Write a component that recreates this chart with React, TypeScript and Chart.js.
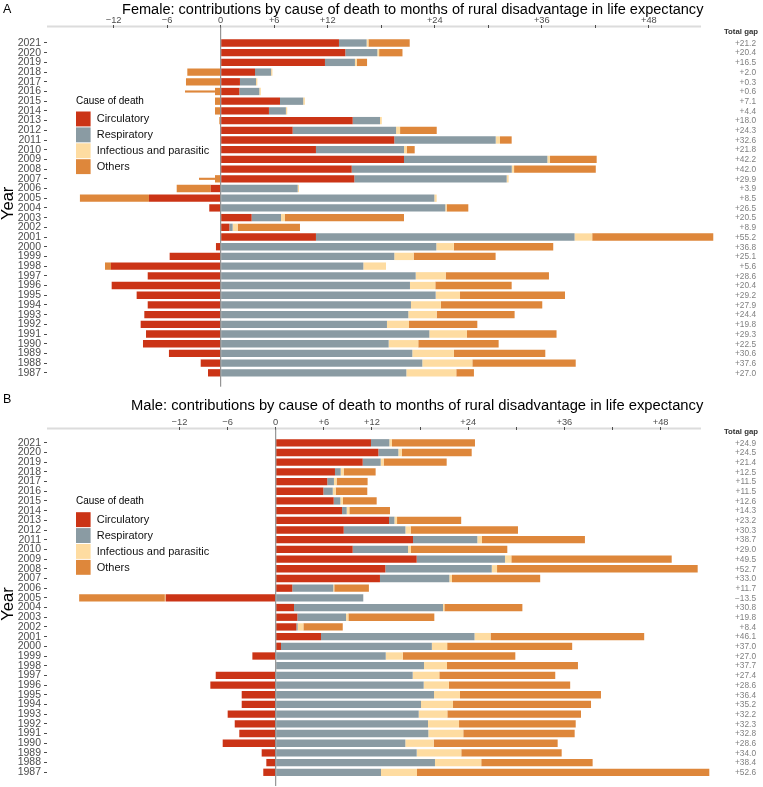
import React, { useEffect, useRef } from 'react';
import { Chart, registerables } from 'chart.js';

Chart.register(...registerables);

const FONT = "'Liberation Sans', Arial, Helvetica, sans-serif";

const YEARS = [2021, 2020, 2019, 2018, 2017, 2016, 2015, 2014, 2013, 2012, 2011, 2010, 2009, 2008, 2007, 2006, 2005, 2004, 2003, 2002, 2001, 2000, 1999, 1998, 1997, 1996, 1995, 1994, 1993, 1992, 1991, 1990, 1989, 1988, 1987];
const CAUSES = ['Circulatory', 'Respiratory', 'Infectious and parasitic', 'Others'];
const CAUSE_COLORS = ['#CB3416', '#8A9BA3', '#FEDCA1', '#DE873B'];
const X_TICKS = [-12, -6, 0, 6, 12, 18, 24, 30, 36, 42, 48];
const X_LABELED = [-12, -6, 0, 6, 12, 24, 36, 48];

const FEMALE_TITLE = 'Female: contributions by cause of death to months of rural disadvantage in life expectancy';
const MALE_TITLE = 'Male: contributions by cause of death to months of rural disadvantage in life expectancy';

// Female (months), years 2021 -> 1987
const F_CIRC = [13.26, 13.97, 11.69, 3.85, 2.16, 2.09, 6.65, 5.41, 14.8, 8.07, 19.46, 10.68, 20.55, 14.69, 14.98, -1.12, -8.04, -1.28, 3.47, 0.97, 10.68, -0.53, -5.72, -12.3, -8.18, -12.22, -9.42, -8.18, -8.56, -8.97, -8.37, -8.71, -5.8, -2.24, -1.42];
const F_RESP = [3.1, 3.59, 3.36, 1.8, 1.8, 2.24, 2.6, 1.9, 3.06, 11.59, 11.37, 9.87, 16.07, 17.94, 17.08, 8.63, 23.95, 25.18, 3.29, 0.37, 28.99, 24.17, 19.46, 15.99, 21.86, 21.22, 24.1, 21.33, 21.03, 18.64, 23.39, 18.83, 21.48, 22.6, 20.81];
const F_INF = [0.2, 0.2, 0.2, 0.15, 0.15, 0.17, 0.19, 0.15, 0.2, 0.45, 0.48, 0.3, 0.3, 0.26, 0.22, 0.15, 0.26, 0.15, 0.45, 0.56, 1.98, 1.97, 2.17, 2.54, 3.36, 2.84, 2.73, 3.36, 3.18, 2.47, 4.22, 3.32, 4.67, 5.61, 5.6];
const F_OTH = [4.63, 2.62, 1.16, -3.74, -3.89, -0.64, -0.64, -0.64, -0.15, 4.11, 1.31, 0.9, 5.23, 9.16, -0.64, -3.81, -7.74, 2.43, 13.34, 6.99, 13.57, 11.14, 9.19, -0.67, 11.58, 8.56, 11.77, 11.36, 8.74, 7.66, 10.04, 9.01, 10.24, 11.59, 1.98];
const F_OTH_THIN = [null, null, null, null, null, -3.36, null, null, null, null, null, null, null, null, -1.79, null, null, null, null, null, null, null, null, null, null, null, null, null, null, null, null, null, null, null, null];
const F_TOTAL = [21.2, 20.4, 16.5, 2.0, 0.3, 0.6, 7.1, 4.4, 18.0, 24.3, 32.6, 21.8, 42.2, 42.0, 29.9, 3.9, 8.5, 26.5, 20.5, 8.9, 55.2, 36.8, 25.1, 5.6, 28.6, 20.4, 29.2, 27.9, 24.4, 19.8, 29.3, 22.5, 30.6, 37.6, 27.0];

// Male (months), years 2021 -> 1987
const M_CIRC = [11.88, 12.8, 10.85, 7.39, 6.43, 5.94, 7.23, 8.27, 14.13, 8.48, 17.12, 9.6, 17.58, 13.67, 13.0, 2.07, -13.72, 2.28, 2.7, 2.57, 5.65, 0.66, -2.91, 0, -7.48, -8.15, -4.24, -4.24, -5.99, -5.11, -4.54, -6.61, -1.75, -1.17, -1.55];
const M_RESP = [2.29, 2.49, 2.24, 0.71, 0.83, 1.17, 0.83, 0.58, 0.67, 7.69, 8.02, 6.9, 11.01, 13.27, 8.65, 5.11, 10.92, 18.58, 6.07, 0.17, 19.14, 18.81, 13.72, 18.49, 17.08, 18.45, 19.74, 18.12, 17.83, 18.99, 19.03, 16.16, 17.58, 19.86, 13.13];
const M_INF = [0.33, 0.42, 0.37, 0.37, 0.33, 0.37, 0.33, 0.33, 0.33, 0.66, 0.58, 0.37, 0.79, 0.66, 0.33, 0.12, -0.1, 0.17, 0.29, 0.71, 2.0, 1.91, 2.12, 2.87, 3.32, 3.15, 3.24, 3.99, 3.57, 3.87, 4.36, 3.54, 5.56, 5.77, 4.49];
const M_OTH = [10.35, 8.73, 7.86, 3.99, 3.87, 3.94, 4.2, 5.07, 8.0, 13.38, 12.84, 12.01, 20.0, 25.02, 11.0, 4.32, -10.69, 9.73, 10.72, 4.91, 19.16, 15.59, 14.04, 16.33, 14.46, 15.12, 17.58, 17.21, 16.67, 14.55, 13.89, 15.46, 12.52, 13.89, 36.45];
const M_TOTAL = [24.9, 24.5, 21.4, 12.5, 11.5, 11.5, 12.6, 14.3, 23.2, 30.3, 38.7, 29.0, 49.5, 52.7, 33.0, 11.7, -13.5, 30.8, 19.8, 8.4, 46.1, 37.0, 27.0, 37.7, 27.4, 28.6, 36.4, 35.2, 32.2, 32.3, 32.8, 28.6, 34.0, 38.4, 52.6];

const MINUS = '\u2212';
function fmtTick(v: number): string {
  if (v === 0) return '0';
  return (v > 0 ? '+' : MINUS) + Math.abs(v);
}
function fmtGap(v: number): string {
  return (v < 0 ? MINUS : '+') + Math.abs(v).toFixed(1);
}

const decorPlugin = {
  id: 'decor',
  beforeDraw(chart: any, _a: any, o: any) {
    const { ctx, chartArea, width, height } = chart;
    const x = chart.scales.x;
    ctx.save();
    ctx.fillStyle = '#FFFFFF';
    ctx.fillRect(0, 0, width, height);
    ctx.strokeStyle = '#DCDCDC';
    ctx.lineWidth = 2;
    ctx.beginPath();
    const ly = chartArea.top - o.axisLineOffset;
    ctx.moveTo(chartArea.left, ly);
    ctx.lineTo(x.getPixelForValue(o.axisEnd), ly);
    ctx.stroke();
    ctx.restore();
  },
  afterDatasetsDraw(chart: any, _a: any, o: any) {
    const { ctx, chartArea } = chart;
    const x0 = chart.scales.x.getPixelForValue(0);
    ctx.save();
    ctx.strokeStyle = '#7F7F7F';
    ctx.lineWidth = 1;
    ctx.beginPath();
    ctx.moveTo(x0, chartArea.top - o.axisLineOffset);
    ctx.lineTo(x0, chartArea.bottom);
    ctx.stroke();
    ctx.restore();
  },
  afterDraw(chart: any, _a: any, o: any) {
    const { ctx, chartArea } = chart;
    const y = chart.scales.y;
    ctx.save();
    ctx.fillStyle = '#000';
    ctx.textBaseline = 'alphabetic';
    ctx.textAlign = 'left';
    ctx.font = `12.5px ${FONT}`;
    ctx.fillText(o.letter, 3, o.letterBase);
    ctx.font = `${o.titleSize}px ${FONT}`;
    ctx.fillText(o.title, o.titleX, o.titleBase);
    ctx.save();
    ctx.translate(12.5, (chartArea.top + chartArea.bottom) / 2 - 4);
    ctx.rotate(-Math.PI / 2);
    ctx.textAlign = 'center';
    ctx.font = `16.5px ${FONT}`;
    ctx.fillText('Year', 0, 0);
    ctx.restore();
    const ds = chart.data.datasets;
    ctx.textAlign = 'left';
    ctx.textBaseline = 'middle';
    ctx.fillStyle = '#000';
    ctx.font = `10px ${FONT}`;
    ctx.fillText('Cause of death', o.legendX, o.legendTitleY);
    const keyTop = o.legendTitleY + 10.5;
    for (let i = 0; i < CAUSES.length; i++) {
      const ky = keyTop + i * 15.9;
      ctx.fillStyle = ds[i].backgroundColor;
      ctx.fillRect(o.legendX, ky, 14.6, 14.9);
      ctx.fillStyle = '#111';
      ctx.font = `11px ${FONT}`;
      ctx.fillText(ds[i].label, o.legendX + 20.7, ky + 7.6);
    }
    ctx.textAlign = 'right';
    ctx.fillStyle = '#333';
    ctx.font = `bold 7.8px ${FONT}`;
    ctx.fillText('Total gap', 758, y.getPixelForValue(YEARS[0]) - 11);
    ctx.fillStyle = '#808080';
    ctx.font = `8.3px ${FONT}`;
    const totals: number[] = o.totals;
    for (let i = 0; i < YEARS.length; i++) {
      ctx.fillText(fmtGap(totals[i]), 756, y.getPixelForValue(YEARS[i]) + 0.5);
    }
    ctx.restore();
  },
};

type Panel = {
  letter: string;
  title: string;
  titleX: number;
  titleBase: number;
  titleSize: number;
  letterBase: number;
  chartTop: number;
  bottomPad: number;
  yMin: number;
  yMax: number;
  xMin: number;
  xMax: number;
  axisEnd: number;
  legendTitleY: number;
  circ: number[];
  resp: number[];
  inf: number[];
  oth: number[];
  othThin: (number | null)[] | null;
  totals: number[];
};

const FEMALE: Panel = {
  letter: 'A', title: FEMALE_TITLE, titleX: 122, titleBase: 13.5, titleSize: 14.55, letterBase: 12.5,
  chartTop: 28, bottomPad: 6.3, yMin: 1985.57, yMax: 2022.546,
  xMin: -19.47, xMax: 55.19, axisEnd: 53.85, legendTitleY: 101,
  circ: F_CIRC, resp: F_RESP, inf: F_INF, oth: F_OTH, othThin: F_OTH_THIN, totals: F_TOTAL,
};

const MALE: Panel = {
  letter: 'B', title: MALE_TITLE, titleX: 131, titleBase: 16.5, titleSize: 14.75, letterBase: 10,
  chartTop: 37, bottomPad: 1, yMin: 1985.586, yMax: 2022.32,
  xMin: -28.52, xMax: 54.53, axisEnd: 53.03, legendTitleY: 108.7,
  circ: M_CIRC, resp: M_RESP, inf: M_INF, oth: M_OTH, othThin: null, totals: M_TOTAL,
};

function makeConfig(p: Panel): any {
  const base = { borderWidth: 0, categoryPercentage: 1, barPercentage: 0.755, clip: false };
  const datasets: any[] = [
    { ...base, label: CAUSES[0], data: p.circ, backgroundColor: CAUSE_COLORS[0] },
    { ...base, label: CAUSES[1], data: p.resp, backgroundColor: CAUSE_COLORS[1] },
    { ...base, label: CAUSES[2], data: p.inf, backgroundColor: CAUSE_COLORS[2] },
    { ...base, label: CAUSES[3], data: p.oth, backgroundColor: CAUSE_COLORS[3] },
  ];
  if (p.othThin) {
    datasets.push({ ...base, label: 'Others (thin)', data: p.othThin, backgroundColor: CAUSE_COLORS[3], barPercentage: 0.22 });
  }
  return {
    type: 'bar',
    data: { labels: YEARS, datasets },
    plugins: [decorPlugin],
    options: {
      indexAxis: 'y',
      animation: false,
      responsive: true,
      maintainAspectRatio: false,
      events: [],
      layout: { padding: { left: 0, right: 50, top: 0, bottom: p.bottomPad } },
      plugins: {
        legend: { display: false },
        tooltip: { enabled: false },
        title: { display: false },
        decor: {
          letter: p.letter, title: p.title, titleX: p.titleX, titleBase: p.titleBase, titleSize: p.titleSize,
          letterBase: p.letterBase, axisEnd: p.axisEnd, axisLineOffset: 1.4, legendX: 76,
          legendTitleY: p.legendTitleY, totals: p.totals,
        },
      },
      scales: {
        x: {
          type: 'linear',
          position: 'top',
          min: p.xMin,
          max: p.xMax,
          stacked: true,
          offset: false,
          afterFit: (s: any) => { s.height = p.chartTop; s.paddingLeft = 0; s.paddingRight = 0; },
          afterBuildTicks: (s: any) => { s.ticks = X_TICKS.map((v) => ({ value: v })); },
          ticks: {
            autoSkip: false,
            maxRotation: 0,
            padding: 0,
            color: '#4D4D4D',
            font: { size: 9.3, family: FONT, lineHeight: 1 },
            callback: (v: number) => (X_LABELED.includes(v) ? fmtTick(v) : ''),
          },
          grid: { offset: false, drawOnChartArea: false, drawTicks: true, tickLength: 3, tickColor: '#4D4D4D', tickWidth: 1 },
          border: { display: false },
        },
        y: {
          type: 'linear',
          min: p.yMin,
          max: p.yMax,
          stacked: true,
          offset: false,
          afterFit: (s: any) => { s.width = 47; s.paddingTop = 0; s.paddingBottom = 0; },
          afterBuildTicks: (s: any) => { s.ticks = YEARS.map((v) => ({ value: v })); },
          ticks: {
            autoSkip: false,
            padding: 3,
            color: '#4D4D4D',
            font: { size: 10.5, family: FONT },
            callback: (v: number) => String(v),
          },
          grid: { offset: false, drawOnChartArea: false, drawTicks: true, tickLength: 3, tickColor: '#4D4D4D', tickWidth: 1 },
          border: { display: false },
        },
      },
    },
  };
}

function PanelChart({ panel, top, height }: { panel: Panel; top: number; height: number }) {
  const ref = useRef<HTMLCanvasElement | null>(null);
  useEffect(() => {
    const chart = new Chart(ref.current as HTMLCanvasElement, makeConfig(panel));
    return () => chart.destroy();
  }, [panel]);
  return (
    <div style={{ position: 'absolute', left: 0, top, width: 763, height }}>
      <canvas ref={ref} />
    </div>
  );
}

export default function App() {
  return (
    <div style={{ position: 'fixed', left: 0, top: 0, width: 763, height: 787, background: '#fff', overflow: 'hidden' }}>
      <PanelChart panel={FEMALE} top={0} height={393} />
      <PanelChart panel={MALE} top={393} height={394} />
    </div>
  );
}
